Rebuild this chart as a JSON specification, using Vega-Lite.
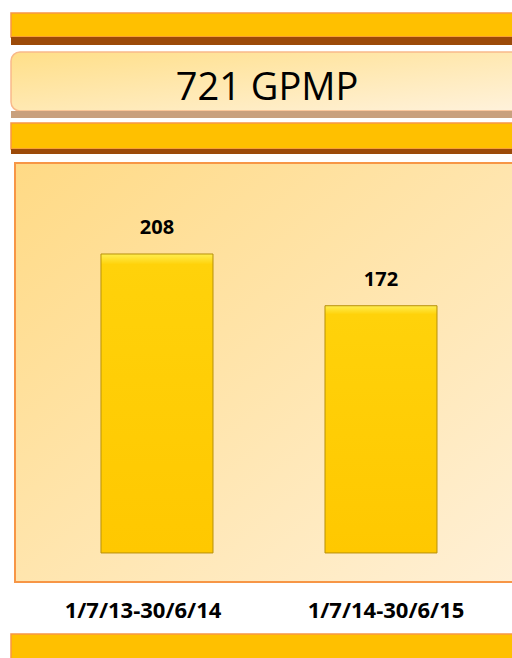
{
  "$schema": "https://vega.github.io/schema/vega-lite/v6.json",
  "padding": {"left": 10, "top": 12, "right": 0, "bottom": 0},
  "background": "white",
  "spacing": 0,
  "bounds": "flush",
  "center": true,
  "config": {"view": {"stroke": null}, "font": "Open Sans"},
  "vconcat": [
    {"width": 510, "height": 24, "data": {"values": []}, "mark": "text",
     "view": {"fill": "#FFC000", "stroke": "#F79646", "strokeWidth": 1.5}},
    {"width": 510, "height": 8, "data": {"values": []}, "mark": "text",
     "view": {"fill": "#9C4A08", "stroke": null}},
    {"width": 510, "height": 7, "data": {"values": []}, "mark": "text"},
    {"width": 510, "height": 59,
     "data": {"values": [{"title": "721 GPMP"}]},
     "layer": [
       {"mark": {"type": "rect", "cornerRadius": 9, "stroke": "#F9B98A", "strokeWidth": 1.5,
                 "fill": {"x1": 0, "y1": 0, "x2": 1, "y2": 1, "gradient": "linear",
                          "stops": [{"offset": 0, "color": "#FFDF88"}, {"offset": 1, "color": "#FFF2DC"}]}},
        "encoding": {"x": {"value": 0}, "x2": {"value": "width"}, "y": {"value": 0}, "y2": {"value": "height"}}},
       {"mark": {"type": "text", "font": "Open Sans", "fontSize": 38, "color": "#000000", "baseline": "middle", "dx": 1, "dy": 7},
        "encoding": {"text": {"field": "title"}}}
     ]},
    {"width": 510, "height": 7, "data": {"values": []}, "mark": "text",
     "view": {"fill": "#C9A07D", "stroke": null}},
    {"width": 510, "height": 5, "data": {"values": []}, "mark": "text"},
    {"width": 510, "height": 26, "data": {"values": []}, "mark": "text",
     "view": {"fill": "#FFC000", "stroke": "#F79646", "strokeWidth": 1.5}},
    {"width": 510, "height": 5, "data": {"values": []}, "mark": "text",
     "view": {"fill": "#9C4A08", "stroke": null}},
    {"width": 510, "height": 9, "data": {"values": []}, "mark": "text"},
    {"width": 502, "height": 419,
     "data": {"values": [
       {"period": "1/7/13-30/6/14", "count": 208},
       {"period": "1/7/14-30/6/15", "count": 172}
     ]},
     "layer": [
       {"mark": {"type": "rect", "stroke": "#F79646", "strokeWidth": 2,
                 "fill": {"x1": 0, "y1": 0, "x2": 1, "y2": 1, "gradient": "linear",
                          "stops": [{"offset": 0, "color": "#FFDA85"}, {"offset": 1, "color": "#FFF0D6"}]}},
        "encoding": {"x": {"value": 0}, "x2": {"value": "width"}, "y": {"value": 0}, "y2": {"value": "height"}}},
       {"mark": {"type": "bar", "stroke": "#B8900A", "strokeWidth": 1,
                 "fill": {"x1": 0, "y1": 0, "x2": 0, "y2": 1, "gradient": "linear",
                          "stops": [{"offset": 0, "color": "#FFEE50"}, {"offset": 0.035, "color": "#FFD20A"}, {"offset": 1, "color": "#FFC800"}]}},
        "encoding": {
          "x": {"field": "period", "type": "nominal", "sort": null,
                "scale": {"paddingInner": 0.5, "paddingOuter": 0.3705, "align": 0.518},
                "axis": {"title": null, "domain": false, "ticks": false, "labelAngle": 0, "labelPadding": 18,
                         "labelFont": "Open Sans", "labelFontWeight": "bold", "labelFontSize": 22, "labelColor": "#000000",
                         "labelOffset": {"condition": {"test": "datum.value === '1/7/13-30/6/14'", "value": -14}, "value": 5}}},
          "y": {"field": "count", "type": "quantitative",
                "scale": {"domain": [-20.2, 271.3], "nice": false, "zero": false},
                "axis": null},
          "y2": {"datum": 0}
        }},
       {"mark": {"type": "text", "font": "Open Sans", "fontWeight": "bold", "fontSize": 20, "color": "#000000", "baseline": "alphabetic", "dy": -20},
        "encoding": {
          "x": {"field": "period", "type": "nominal", "sort": null},
          "y": {"field": "count", "type": "quantitative"},
          "text": {"field": "count"}
        }}
     ]},
    {"width": 510, "height": 52, "data": {"values": []}, "mark": "text"},
    {"width": 510, "height": 25, "data": {"values": []}, "mark": "text",
     "view": {"fill": "#FFC000", "stroke": "#F79646", "strokeWidth": 1.5}}
  ]
}
